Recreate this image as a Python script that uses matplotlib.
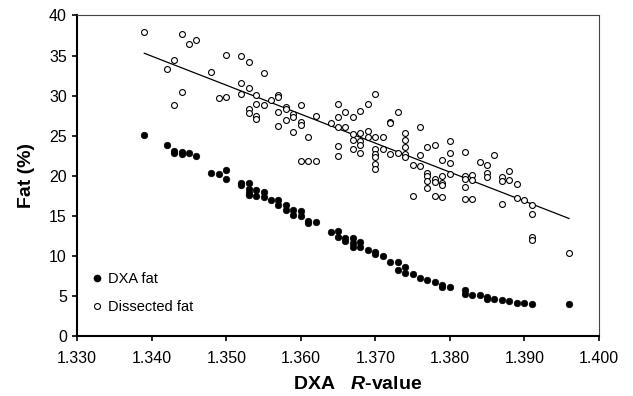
import numpy as np
import matplotlib
matplotlib.use("Agg")
import matplotlib.pyplot as plt
from matplotlib.lines import Line2D

# DXA fat (%) against DXA R-value
dxa_r = [1.339, 1.342, 1.343, 1.343, 1.344, 1.344, 1.345, 1.346, 1.348, 1.349,
         1.350, 1.350, 1.352, 1.352, 1.353, 1.353, 1.353, 1.353, 1.354, 1.354,
         1.355, 1.355, 1.356, 1.357, 1.357, 1.358, 1.358, 1.359, 1.359, 1.360,
         1.360, 1.361, 1.361, 1.362, 1.364, 1.365, 1.365, 1.366, 1.366, 1.367,
         1.367, 1.367, 1.368, 1.368, 1.369, 1.370, 1.370, 1.371, 1.372, 1.373,
         1.373, 1.374, 1.374, 1.375, 1.376, 1.377, 1.378, 1.379, 1.379, 1.380,
         1.382, 1.382, 1.383, 1.384, 1.385, 1.385, 1.386, 1.387, 1.388, 1.389,
         1.390, 1.391, 1.396]
dxa_fat = [25.1, 23.8, 23.1, 22.8, 23.0, 22.7, 22.8, 22.5, 20.4, 20.2,
           20.7, 19.6, 19.1, 18.9, 19.1, 18.3, 17.9, 17.6, 18.2, 17.5,
           18.0, 17.3, 17.0, 17.0, 16.3, 16.3, 15.7, 15.7, 15.1, 15.6,
           15.0, 14.4, 14.1, 14.2, 13.0, 13.1, 12.4, 12.3, 11.9, 12.2,
           11.6, 11.1, 11.8, 11.1, 10.7, 10.5, 10.2, 10.0, 9.3, 9.2,
           8.2, 8.6, 7.9, 7.7, 7.3, 7.0, 6.7, 6.4, 6.1, 6.1,
           5.7, 5.3, 5.2, 5.1, 4.9, 4.6, 4.7, 4.5, 4.4, 4.1,
           4.1, 4.0, 4.0]

# Dissected fat (%) against DXA R-value
dis_r = [1.339, 1.342, 1.343, 1.343, 1.344, 1.344, 1.345, 1.346, 1.348, 1.349,
         1.350, 1.350, 1.352, 1.352, 1.352, 1.353, 1.353, 1.353, 1.353,
         1.354, 1.354, 1.354, 1.354, 1.355, 1.355, 1.356,
         1.357, 1.357, 1.357, 1.357, 1.358, 1.358, 1.358, 1.359, 1.359, 1.359,
         1.360, 1.360, 1.360, 1.360, 1.361, 1.361, 1.362, 1.362, 1.364,
         1.365, 1.365, 1.365, 1.365, 1.365, 1.366, 1.366,
         1.367, 1.367, 1.367, 1.367, 1.368, 1.368, 1.368, 1.368, 1.368,
         1.369, 1.369, 1.369, 1.370, 1.370, 1.370, 1.370, 1.370, 1.370, 1.370,
         1.371, 1.371, 1.372, 1.372, 1.372, 1.373, 1.373,
         1.374, 1.374, 1.374, 1.374, 1.374, 1.375, 1.375, 1.376, 1.376, 1.376,
         1.377, 1.377, 1.377, 1.377, 1.377, 1.378, 1.378, 1.378, 1.378,
         1.379, 1.379, 1.379, 1.379, 1.379, 1.380, 1.380, 1.380, 1.380,
         1.382, 1.382, 1.382, 1.382, 1.382, 1.383, 1.383, 1.383, 1.384,
         1.385, 1.385, 1.385, 1.386, 1.387, 1.387, 1.387, 1.388, 1.388,
         1.389, 1.389, 1.390, 1.391, 1.391, 1.391, 1.391, 1.396]
dis_fat = [37.9, 33.3, 34.4, 28.8, 37.7, 30.5, 36.4, 36.9, 32.9, 29.7,
           35.1, 29.8, 35.0, 31.6, 30.2, 34.2, 31.0, 28.3, 27.8,
           30.1, 28.9, 27.4, 27.1, 32.8, 28.8, 29.4,
           30.1, 29.8, 27.9, 26.2, 28.6, 28.3, 26.9, 27.7, 27.3, 25.5,
           28.8, 26.7, 26.4, 21.9, 24.8, 21.8, 27.4, 21.9, 26.6,
           28.9, 27.3, 26.1, 23.7, 22.5, 28.0, 26.1,
           27.3, 25.2, 24.5, 23.4, 28.1, 25.3, 24.4, 23.8, 22.9,
           28.9, 25.6, 24.9, 30.2, 24.8, 23.4, 22.7, 22.4, 21.5, 20.8,
           24.9, 23.4, 26.7, 26.6, 22.7, 27.9, 22.8,
           25.3, 24.5, 23.6, 22.7, 22.3, 21.3, 17.5, 26.1, 22.6, 21.2,
           23.6, 20.3, 20.0, 19.3, 18.5, 23.9, 19.6, 19.2, 17.5,
           22.0, 20.0, 19.1, 18.8, 17.4, 24.4, 22.8, 21.6, 20.2,
           23.0, 20.0, 19.6, 18.6, 17.1, 20.1, 19.5, 17.1, 21.7,
           21.3, 20.4, 19.8, 22.6, 19.9, 19.4, 16.5, 20.6, 19.5,
           19.0, 17.2, 17.0, 16.4, 15.3, 12.4, 12.0, 10.4]

x_ticks = [1.330, 1.340, 1.350, 1.360, 1.370, 1.380, 1.390, 1.400]
y_ticks = [0, 5, 10, 15, 20, 25, 30, 35, 40]

plt.rcParams['font.family'] = 'Liberation Sans'
plt.rcParams['mathtext.fontset'] = 'custom'
plt.rcParams['mathtext.it'] = 'Liberation Sans:italic:bold'
plt.rcParams['mathtext.rm'] = 'Liberation Sans:bold'

fig = plt.figure(figsize=(6.33, 3.96), dpi=100)
ax = fig.add_axes([0.122, 0.151, 0.824, 0.810])

ax.scatter(dxa_r, dxa_fat, s=22, color='black', edgecolors='black', linewidths=0.5, zorder=3)
ax.scatter(dis_r, dis_fat, s=18, facecolors='white', edgecolors='black', linewidths=0.8, zorder=3)

# linear trend for dissected fat
slope, icpt = np.polyfit(dis_r, dis_fat, 1)
xl = np.array([min(dis_r), max(dis_r)])
ax.plot(xl, slope * xl + icpt, color='black', lw=0.9, zorder=2)

ax.set_xlim(1.330, 1.400)
ax.set_ylim(0, 40)
ax.set_xticks(x_ticks)
ax.set_xticklabels([f"{t:.3f}" for t in x_ticks])
ax.set_yticks(y_ticks)
ax.tick_params(axis='both', labelsize=11.5, direction='out', length=3.5, width=1.2, pad=4)
ax.tick_params(axis='x', pad=7)

ax.spines['left'].set_linewidth(1.5)
ax.spines['bottom'].set_linewidth(1.5)
ax.spines['top'].set_linewidth(0.8)
ax.spines['right'].set_linewidth(0.8)
ax.spines['top'].set_color('#444444')
ax.spines['right'].set_color('#444444')

ax.set_xlabel(r"DXA   $\mathit{R}$-value", fontsize=14, fontweight='bold')
ax.xaxis.set_label_coords(0.538, -0.125)
ax.set_ylabel("Fat (%)", fontsize=14, fontweight='bold', labelpad=10)

handles = [
    Line2D([], [], marker='o', ls='none', color='black', markersize=4.5),
    Line2D([], [], marker='o', ls='none', markerfacecolor='white', markeredgecolor='black',
           markersize=4.3, markeredgewidth=0.8),
]
ax.legend(handles, ["DXA fat", "Dissected fat"], loc='lower left', bbox_to_anchor=(0.012, 0.046),
          frameon=False, fontsize=10.5, handlelength=0.8, handletextpad=0.4,
          labelspacing=0.95, borderaxespad=0, borderpad=0.5)

fig.savefig("out.png", dpi=100)
